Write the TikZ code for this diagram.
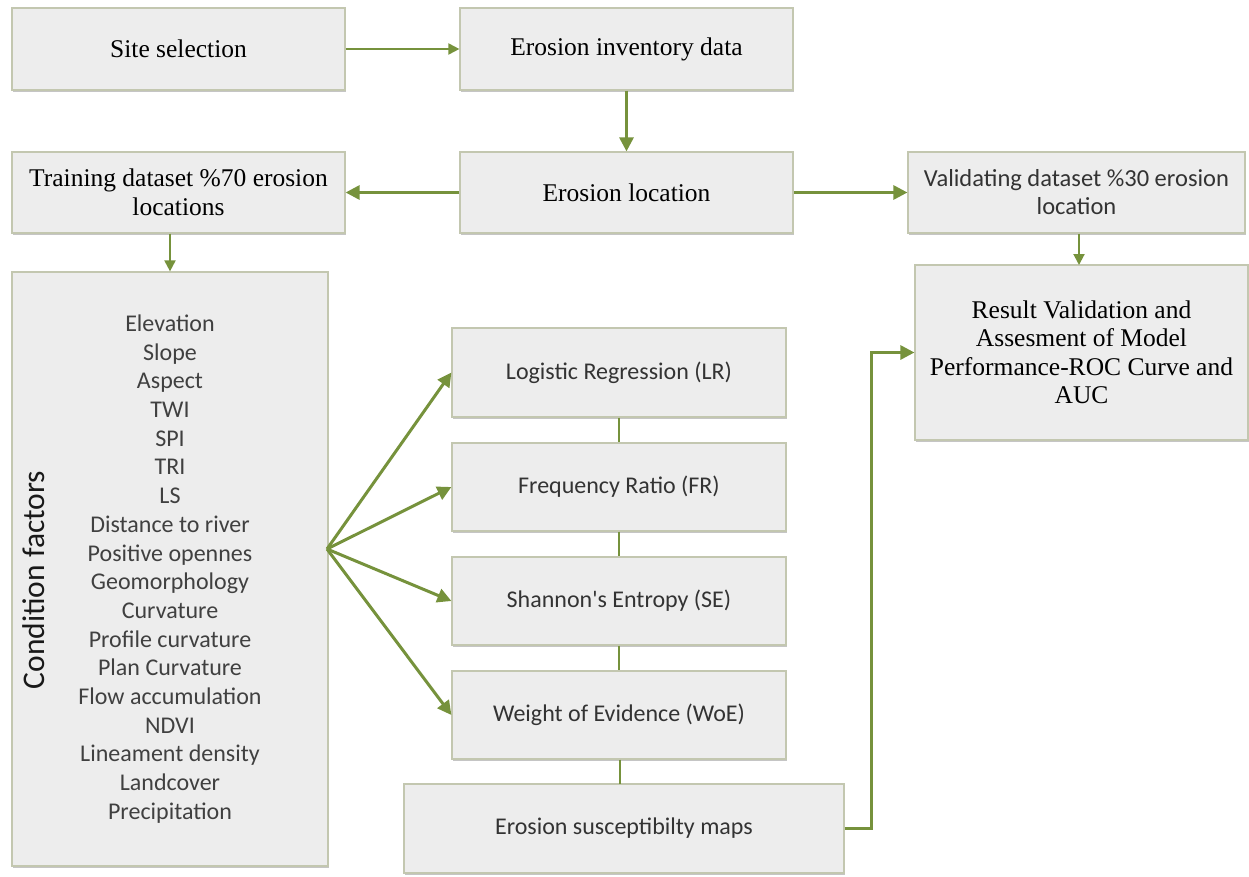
\documentclass[tikz,border=0pt]{standalone}
\usepackage{fontspec}
\setmainfont{Liberation Serif}
\newfontfamily\sansf{Carlito}
\usetikzlibrary{arrows.meta,shadows,calc}
\definecolor{grn}{HTML}{76923C}
\definecolor{boxfill}{HTML}{EDEDED}
\definecolor{boxline}{HTML}{C3C7B0}
\begin{document}
\begin{tikzpicture}[x=1pt,y=-1pt,
  box/.style={draw=boxline, line width=1.2pt, fill=boxfill, inner sep=0pt, align=center,
    drop shadow={shadow xshift=1pt, shadow yshift=-2pt, fill=black!45, opacity=0.5}},
  serifbox/.style={box, font=\fontsize{25.5}{28.5}\selectfont, text=black},
  sansbox/.style={box, font=\sansf\fontsize{24}{28}\selectfont, text=black!80},
  arr/.style={draw=grn, line width=3pt, -{Triangle[length=14pt,width=14pt]}},
  thinarr/.style={draw=grn, line width=2pt, -{Triangle[length=11pt,width=11pt]}},
  link/.style={draw=grn, line width=1.5pt}
]
\useasboundingbox (0,0) rectangle (1249,877);

% top row
\node[serifbox, minimum width=333pt, minimum height=82pt] (site) at (178.5,49) {Site selection};
\node[serifbox, minimum width=333pt, minimum height=82pt] (inv) at (626.5,49) {Erosion inventory data};
% second row
\node[serifbox, minimum width=333pt, minimum height=81pt] (train) at (178.5,192.5) {Training dataset \%70 erosion\\locations};
\node[serifbox, minimum width=333pt, minimum height=81pt] (loc) at (626.5,192.5) {Erosion location};
\node[sansbox, font=\sansf\fontsize{24.5}{28}\selectfont, minimum width=337pt, minimum height=81pt] (valid) at (1076.5,192.5) {Validating dataset \%30 erosion\\location};
% result
\node[serifbox, minimum width=333pt, minimum height=175pt] (result) at (1081.5,352.5) {Result Validation and\\Assesment of Model\\Performance-ROC Curve and\\AUC};
% condition factors
\node[box, minimum width=316pt, minimum height=594pt] (cond) at (170,569) {};
\node[font=\sansf\fontsize{24}{28.7}\selectfont, text=black!75, align=center] (list) at (170,569)
 {Elevation\\Slope\\Aspect\\TWI\\SPI\\TRI\\LS\\Distance to river\\Positive opennes\\Geomorphology\\Curvature\\Profile curvature\\Plan Curvature\\Flow accumulation\\NDVI\\Lineament density\\Landcover\\Precipitation};
\node[rotate=90, font=\sansf\fontsize{31.5}{34}\selectfont, text=black!90] (cf) at (34,580) {Condition factors};
% models
\node[sansbox, minimum width=334pt, minimum height=89pt] (lr) at (619,372.5) {Logistic Regression (LR)};
\node[sansbox, minimum width=334pt, minimum height=88pt] (fr) at (619,487) {Frequency Ratio (FR)};
\node[sansbox, minimum width=334pt, minimum height=88pt] (se) at (619,601) {Shannon's Entropy (SE)};
\node[sansbox, minimum width=334pt, minimum height=88pt] (woe) at (619,715) {Weight of Evidence (WoE)};
\node[sansbox, minimum width=440pt, minimum height=89pt] (esm) at (624,828.5) {Erosion susceptibilty maps};

\coordinate (fan) at (327,549);
\coordinate (bend) at (871,0);

% connectors
\draw[thinarr] (site) -- (inv);
\draw[arr] (inv) -- (loc);
\draw[arr] (loc) -- (train);
\draw[arr] (loc) -- (valid);
\draw[thinarr] (train.south -| cond.north) -- (cond.north);
\draw[thinarr] (valid.south -| 1079,0) -- (1079,265);
\draw[arr] (fan) -- (lr.west);
\draw[arr] (fan) -- (fr.west);
\draw[arr] (fan) -- (se.west);
\draw[arr] (fan) -- (woe.west);
\draw[link] (lr) -- (fr);
\draw[link] (fr) -- (se);
\draw[link] (se) -- (woe);
\draw[link] (woe.south -| 620,0) -- (620,784);
\draw[arr] (esm.east) -- (esm.east -| bend) |- (result.west);
\end{tikzpicture}
\end{document}
